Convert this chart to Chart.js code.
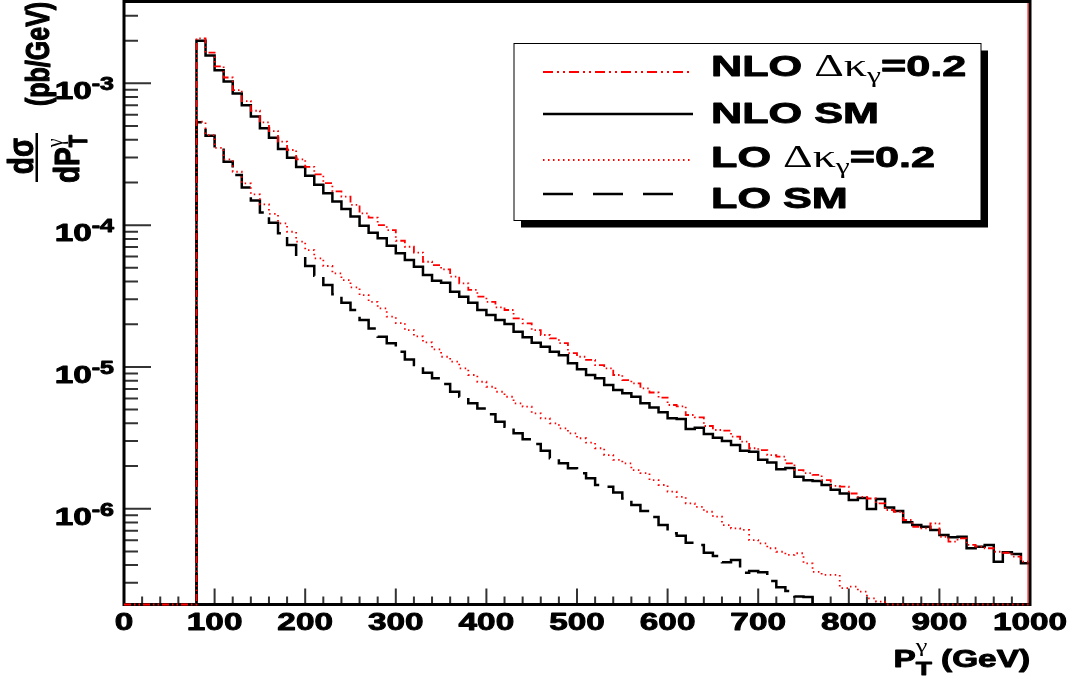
<!DOCTYPE html>
<html>
<head>
<meta charset="utf-8">
<title>Photon pT spectrum</title>
<script src="https://cdn.jsdelivr.net/npm/chart.js@4.4.1/dist/chart.umd.min.js"></script>
<style>
  html, body { margin: 0; padding: 0; background: #fff; }
  #wrap { width: 1077px; height: 680px; }
</style>
</head>
<body>
<div id="wrap"><canvas id="myChart" width="1077" height="680"></canvas></div>
<script>
// histogram binning (GeV)
var binWidth = 10;

// axis ticks and labels
var xTicks = [0, 100, 200, 300, 400, 500, 600, 700, 800, 900, 1000];
var xTickLabels = ['0', '100', '200', '300', '400', '500', '600', '700', '800', '900', '1000'];
var yTicks = [1e-3, 1e-4, 1e-5, 1e-6];
var yTickLabels = ['10^{-3}', '10^{-4}', '10^{-5}', '10^{-6}'];
var yMin = 2.11e-7, yMax = 3.78e-3;

var seriesNames = ['NLO \u0394\u03ba_\u03b3=0.2', 'NLO SM', 'LO \u0394\u03ba_\u03b3=0.2', 'LO SM'];

// d(sigma)/dPT in pb/GeV, one value per 10 GeV bin from 0 to 990
var nloDk = [0, 0, 0, 0, 0, 0, 0, 0,
  2.08e-3, 1.65e-3, 1.32e-3, 1.10e-3, 8.97e-4, 7.50e-4, 6.41e-4, 5.31e-4, 4.61e-4, 3.88e-4,
  3.39e-4, 2.91e-4, 2.58e-4, 2.28e-4, 1.98e-4, 1.73e-4, 1.59e-4, 1.39e-4, 1.21e-4, 1.13e-4,
  1.00e-4, 9.23e-5, 7.76e-5, 7.04e-5, 6.41e-5, 5.52e-5, 5.23e-5, 4.88e-5, 4.33e-5, 3.89e-5,
  3.49e-5, 3.13e-5, 2.88e-5, 2.63e-5, 2.52e-5, 2.20e-5, 2.03e-5, 1.82e-5, 1.68e-5, 1.59e-5,
  1.47e-5, 1.25e-5, 1.18e-5, 1.12e-5, 1.03e-5, 9.77e-6, 8.77e-6, 8.08e-6, 7.66e-6, 7.06e-6,
  6.60e-6, 6.08e-6, 5.39e-6, 5.27e-6, 4.58e-6, 4.41e-6, 3.83e-6, 3.59e-6, 3.55e-6, 3.22e-6,
  2.97e-6, 2.67e-6, 2.59e-6, 2.39e-6, 2.33e-6, 2.09e-6, 1.87e-6, 1.78e-6, 1.73e-6, 1.59e-6,
  1.45e-6, 1.43e-6, 1.28e-6, 1.21e-6, 1.18e-6, 1.09e-6, 9.79e-7, 9.52e-7, 8.32e-7, 7.46e-7,
  7.27e-7, 7.89e-7, 6.34e-7, 5.85e-7, 6.18e-7, 5.55e-7, 5.40e-7, 5.26e-7, 4.97e-7, 4.89e-7,
  4.59e-7, 4.23e-7];

var nloSM = [0, 0, 0, 0, 0, 0, 0, 0,
  2.00e-3, 1.57e-3, 1.24e-3, 1.03e-3, 8.50e-4, 7.00e-4, 5.85e-4, 4.82e-4, 4.14e-4, 3.44e-4,
  2.99e-4, 2.57e-4, 2.23e-4, 1.93e-4, 1.68e-4, 1.47e-4, 1.30e-4, 1.15e-4, 9.90e-5, 8.84e-5,
  8.07e-5, 7.16e-5, 6.33e-5, 5.67e-5, 5.09e-5, 4.45e-5, 4.05e-5, 3.92e-5, 3.39e-5, 3.13e-5,
  2.84e-5, 2.52e-5, 2.32e-5, 2.14e-5, 2.01e-5, 1.77e-5, 1.62e-5, 1.48e-5, 1.39e-5, 1.28e-5,
  1.21e-5, 1.06e-5, 9.62e-6, 8.77e-6, 8.31e-6, 7.45e-6, 6.87e-6, 6.51e-6, 6.16e-6, 5.54e-6,
  5.17e-6, 4.78e-6, 4.34e-6, 4.30e-6, 3.65e-6, 3.72e-6, 3.36e-6, 3.17e-6, 3.00e-6, 2.81e-6,
  2.56e-6, 2.52e-6, 2.21e-6, 2.12e-6, 1.90e-6, 1.94e-6, 1.68e-6, 1.59e-6, 1.57e-6, 1.47e-6,
  1.36e-6, 1.28e-6, 1.15e-6, 1.19e-6, 9.95e-7, 1.17e-6, 1.02e-6, 9.63e-7, 8.02e-7, 7.67e-7,
  7.46e-7, 7.08e-7, 6.52e-7, 6.28e-7, 6.34e-7, 5.26e-7, 5.40e-7, 5.55e-7, 4.23e-7, 4.93e-7,
  4.79e-7, 4.12e-7];

var loDk = [0, 0, 0, 0, 0, 0, 0, 0,
  5.36e-4, 4.32e-4, 3.51e-4, 2.91e-4, 2.38e-4, 1.97e-4, 1.65e-4, 1.40e-4, 1.20e-4, 1.03e-4,
  8.98e-5, 7.64e-5, 6.67e-5, 5.83e-5, 5.15e-5, 4.57e-5, 4.10e-5, 3.64e-5, 3.21e-5, 2.88e-5,
  2.59e-5, 2.26e-5, 2.04e-5, 1.82e-5, 1.64e-5, 1.49e-5, 1.33e-5, 1.18e-5, 1.09e-5, 9.77e-6,
  8.77e-6, 7.86e-6, 7.25e-6, 6.68e-6, 6.16e-6, 5.54e-6, 5.24e-6, 4.71e-6, 4.34e-6, 4.00e-6,
  3.69e-6, 3.40e-6, 3.14e-6, 2.92e-6, 2.67e-6, 2.39e-6, 2.21e-6, 2.09e-6, 1.87e-6, 1.78e-6,
  1.59e-6, 1.47e-6, 1.32e-6, 1.21e-6, 1.09e-6, 1.03e-6, 9.52e-7, 8.78e-7, 7.67e-7, 7.27e-7,
  7.08e-7, 6.01e-7, 5.70e-7, 5.26e-7, 4.97e-7, 4.72e-7, 4.85e-7, 4.12e-7, 3.59e-7, 3.41e-7,
  3.41e-7, 2.75e-7, 2.82e-7, 2.60e-7, 2.33e-7, 2.21e-7, 0, 0, 0, 0,
  0, 0, 0, 0, 0, 0, 0, 0, 0, 0,
  0, 0];

var loSM = [0, 0, 0, 0, 0, 0, 0, 0,
  5.31e-4, 4.27e-4, 3.48e-4, 2.80e-4, 2.26e-4, 1.84e-4, 1.49e-4, 1.23e-4, 1.04e-4, 8.76e-5,
  7.24e-5, 5.99e-5, 5.15e-5, 4.40e-5, 3.78e-5, 3.25e-5, 2.84e-5, 2.52e-5, 2.14e-5, 1.87e-5,
  1.63e-5, 1.47e-5, 1.28e-5, 1.13e-5, 1.03e-5, 9.10e-6, 8.31e-6, 7.57e-6, 6.68e-6, 6.16e-6,
  5.54e-6, 5.10e-6, 4.63e-6, 4.11e-6, 3.79e-6, 3.40e-6, 3.09e-6, 2.86e-6, 2.56e-6, 2.27e-6,
  2.09e-6, 1.93e-6, 1.78e-6, 1.64e-6, 1.47e-6, 1.43e-6, 1.30e-6, 1.18e-6, 1.06e-6, 9.63e-7,
  8.74e-7, 7.67e-7, 6.71e-7, 6.45e-7, 5.76e-7, 5.55e-7, 4.89e-7, 4.64e-7, 4.19e-7, 4.35e-7,
  3.54e-7, 3.64e-7, 3.56e-7, 3.09e-7, 2.79e-7, 2.63e-7, 2.40e-7, 2.38e-7, 0, 0,
  0, 0, 0, 0, 0, 0, 0, 0, 0, 0,
  0, 0, 0, 0, 0, 0, 0, 0, 0, 0,
  0, 0];

// line styles, same order as seriesNames
var seriesStyles = [
  { color: '#ff0000', width: 1.8, dash: [7, 3, 1.5, 3, 1.5, 3], legendDash: [10, 4, 2, 4, 2, 4] },
  { color: '#000000', width: 2.5, dash: [], legendDash: [] },
  { color: '#ff0000', width: 1.8, dash: [1.5, 3.5], legendDash: [1.5, 3.5] },
  { color: '#000000', width: 2.5, dash: [28, 10], legendDash: [30, 20] }
];

// empty / too small bins are drawn on the bottom edge, like ROOT does on a log axis
function histPoints(values) {
  var pts = values.map(function (v, i) {
    return { x: i * binWidth, y: Math.max(v, yMin) };
  });
  pts.push({ x: values.length * binWidth, y: Math.max(values[values.length - 1], yMin) });
  return pts;
}

// --- small text helper: handles _x / ^x (or _{..} ^{..}) and greek letters
var SERIF_CHARS = '\u0394\u03ba\u03b3';

function parseRich(str) {
  var out = [], i = 0;
  while (i < str.length) {
    var c = str[i];
    if ((c === '_' || c === '^') && i + 1 < str.length) {
      var txt;
      if (str[i + 1] === '{') {
        var j = str.indexOf('}', i + 2);
        txt = str.slice(i + 2, j);
        i = j + 1;
      } else {
        txt = str[i + 1];
        i += 2;
      }
      out.push({ t: txt, k: c === '_' ? 'sub' : 'sup' });
    } else {
      var last = out[out.length - 1];
      if (last && last.k === 'n') last.t += c; else out.push({ t: c, k: 'n' });
      i++;
    }
  }
  return out;
}

function splitRuns(text) {
  var runs = [];
  for (var i = 0; i < text.length; i++) {
    var ch = text[i], serif = SERIF_CHARS.indexOf(ch) >= 0;
    var last = runs[runs.length - 1];
    if (last && last.serif === serif) last.t += ch; else runs.push({ t: ch, serif: serif });
  }
  return runs;
}

function fontStr(serif, size) {
  return serif ? size + 'px "Liberation Serif", "DejaVu Serif", serif'
               : 'bold ' + size + 'px "Liberation Sans", Arial, sans-serif';
}

function drawRich(ctx, str, x, y, o) {
  var sx = o.sx || 1, sy = o.sy || 1;
  var stroke = o.stroke === undefined ? 0.9 : o.stroke;
  var toks = parseRich(str), ops = [], cx = 0, subStart = 0;
  toks.forEach(function (tk, idx) {
    var size = tk.k === 'n' ? o.size : (tk.k === 'sub' ? (o.subSize || o.size * 0.7) : (o.supSize || o.size * 0.7));
    var dy = tk.k === 'n' ? 0 : (tk.k === 'sub' ? (o.subDy || 0) : -(o.supDy || 0));
    var start = (tk.k === 'sup' && idx > 0 && toks[idx - 1].k === 'sub') ? subStart : cx;
    if (tk.k === 'sub') subStart = start;
    var px = start;
    splitRuns(tk.t).forEach(function (r) {
      var sz = r.serif && o.greekSize && tk.k === 'n' ? o.greekSize : size;
      var f = fontStr(r.serif, sz);
      ctx.font = f;
      var w = ctx.measureText(r.t).width * sx;
      ops.push({ f: f, t: r.t, x: px, dy: dy, serif: r.serif });
      px += w;
    });
    cx = Math.max(cx, px);
  });
  var ox = o.align === 'right' ? x - cx : (o.align === 'center' ? x - cx / 2 : x);
  ctx.fillStyle = o.color || '#000';
  ctx.strokeStyle = o.color || '#000';
  ctx.textBaseline = 'alphabetic';
  ctx.textAlign = 'left';
  ops.forEach(function (op) {
    ctx.save();
    ctx.font = op.f;
    ctx.translate(ox + op.x, y + op.dy * sy);
    ctx.scale(sx, sy);
    ctx.fillText(op.t, 0, 0);
    if (stroke > 0 && !op.serif) {
      ctx.lineWidth = stroke;
      ctx.lineJoin = 'round';
      ctx.strokeText(op.t, 0, 0);
    }
    ctx.restore();
  });
  return cx;
}

// frame, inside ticks, labels and legend in the ROOT look
var rootFrame = {
  id: 'rootFrame',
  beforeDatasetsDraw: function (chart) {
    var ctx = chart.ctx, a = chart.chartArea, xs = chart.scales.x, ys = chart.scales.y;
    ctx.save();
    ctx.strokeStyle = '#333';
    ctx.lineWidth = 2;
    ctx.beginPath();
    for (var g = 0; g <= 1000; g += 20) {
      var px = xs.getPixelForValue(g);
      var len = g % 100 === 0 ? 16 : 8;
      ctx.moveTo(px, a.bottom);
      ctx.lineTo(px, a.bottom - len);
    }
    for (var e = -7; e <= -3; e++) {
      for (var m = 1; m <= 9; m++) {
        var v = m * Math.pow(10, e);
        if (v < yMin || v > yMax) continue;
        var py = ys.getPixelForValue(v);
        ctx.moveTo(a.left, py);
        ctx.lineTo(a.left + (m === 1 ? 27 : 14), py);
      }
    }
    ctx.stroke();
    ctx.strokeStyle = '#000';
    ctx.lineWidth = 3;
    ctx.strokeRect(a.left, a.top, a.right - a.left, a.bottom - a.top);
    ctx.restore();
  },
  afterDatasetsDraw: function (chart) {
    var ctx = chart.ctx, a = chart.chartArea, xs = chart.scales.x, ys = chart.scales.y;
    ctx.save();

    // thin red line along the right frame
    ctx.strokeStyle = '#ff0000';
    ctx.lineWidth = 1;
    ctx.beginPath();
    ctx.moveTo(a.right - 2, a.top + 1.5);
    ctx.lineTo(a.right - 2, a.bottom - 1.5);
    ctx.stroke();

    // tick labels
    xTicks.forEach(function (v, i) {
      drawRich(ctx, xTickLabels[i], xs.getPixelForValue(v), a.bottom + 25.5, { size: 24, sx: 1.39, align: 'center' });
    });
    yTicks.forEach(function (v, i) {
      drawRich(ctx, yTickLabels[i], 114, ys.getPixelForValue(v) + 16, { size: 24, sx: 1.39, align: 'right', supSize: 18, supDy: 9 });
    });

    // axis titles
    drawRich(ctx, 'P_T^\u03b3 (GeV)', a.right, 667, { size: 24, sx: 1.39, align: 'right', subSize: 19, subDy: 8, supSize: 19, supDy: 15 });

    ctx.save();
    ctx.translate(49, 106);
    ctx.rotate(-Math.PI / 2);
    drawRich(ctx, '(pb/GeV)', 0, 0, { size: 25, sy: 1.35, align: 'left' });
    ctx.restore();

    ctx.save();
    ctx.translate(33, 156);
    ctx.rotate(-Math.PI / 2);
    drawRich(ctx, 'd\u03c3', 0, 0, { size: 28, sy: 1.25, align: 'center' });
    ctx.restore();
    ctx.fillStyle = '#000';
    ctx.fillRect(35.5, 133, 2.5, 49);
    ctx.save();
    ctx.translate(79, 183);
    ctx.rotate(-Math.PI / 2);
    drawRich(ctx, 'dP_T^\u03b3', 0, 0, { size: 28, sy: 1.25, align: 'left', subSize: 20, subDy: 6, supSize: 20, supDy: 13 });
    ctx.restore();

    // legend box with shadow
    var lx = 514, ly = 43.5, lw = 467, lh = 177;
    ctx.fillStyle = '#000';
    ctx.fillRect(lx + 7, ly + 7, lw, lh);
    ctx.fillStyle = '#fff';
    ctx.fillRect(lx, ly, lw, lh);
    ctx.strokeStyle = '#000';
    ctx.lineWidth = 1;
    ctx.strokeRect(lx, ly, lw, lh);

    var sampleY = [72, 114, 160, 194];
    var textY = [76, 123, 167, 208];
    seriesNames.forEach(function (name, i) {
      var st = seriesStyles[i];
      ctx.save();
      ctx.strokeStyle = st.color;
      ctx.lineWidth = st.width;
      ctx.setLineDash(st.legendDash);
      ctx.beginPath();
      ctx.moveTo(543, sampleY[i]);
      ctx.lineTo(693, sampleY[i]);
      ctx.stroke();
      ctx.restore();
      drawRich(ctx, name, 711, textY[i], { size: 30, sx: 1.44, align: 'left', greekSize: 32, subSize: 22, subDy: 6 });
    });

    ctx.restore();
  }
};

var series = [nloDk, nloSM, loDk, loSM];
var datasets = series.map(function (vals, i) {
  var st = seriesStyles[i];
  return {
    label: seriesNames[i],
    data: histPoints(vals),
    borderColor: st.color,
    borderWidth: st.width,
    borderDash: st.dash,
    borderCapStyle: 'butt',
    borderJoinStyle: 'miter',
    stepped: 'before',
    pointRadius: 0,
    fill: false,
    clip: false
  };
});

var ctx = document.getElementById('myChart').getContext('2d');
var myChart = new Chart(ctx, {
  type: 'line',
  data: { datasets: datasets },
  options: {
    responsive: false,
    animation: false,
    devicePixelRatio: 1,
    layout: { padding: { left: 124, right: 47, top: 1.5, bottom: 75.5 } },
    scales: {
      x: { type: 'linear', min: 0, max: 1000, display: false },
      y: { type: 'logarithmic', min: yMin, max: yMax, display: false }
    },
    plugins: {
      legend: { display: false },
      tooltip: { enabled: false }
    }
  },
  plugins: [rootFrame]
});
</script>
</body>
</html>
